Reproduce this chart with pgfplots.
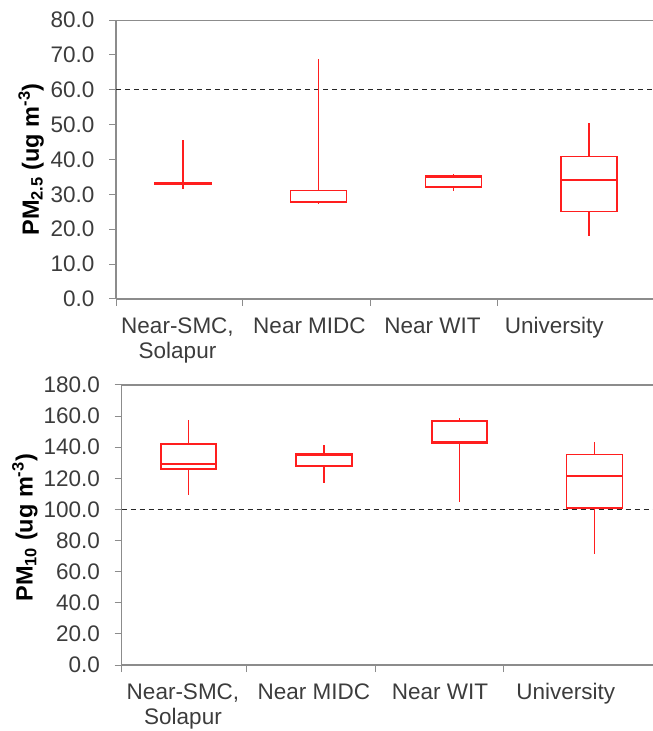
\documentclass[border=0pt]{standalone}
\usepackage{pgfplots}
\pgfplotsset{compat=1.18}
\usepgfplotslibrary{statistics}
\usepackage{fontspec}
\setmainfont{Liberation Sans}
\definecolor{tickgray}{RGB}{60,60,60}
\definecolor{axgray}{RGB}{140,140,140}
\definecolor{boxred}{RGB}{255,30,30}
\pgfplotsset{
  panel/.style={
    scale only axis,
    width=540pt,
    axis x line*=bottom, axis y line*=left,
    axis line style={axgray, line width=1.4pt, -},
    tick style={axgray, line width=1pt},
    major tick length=7pt,
    tick align=outside,
    ytick pos=left, xtick pos=bottom,
    boxplot/draw direction=y,
    /pgf/number format/assume math mode=true,
    yticklabel style={font=\fontsize{22.5}{26}\selectfont, text=tickgray, xshift=-11pt,
      /pgf/number format/.cd, fixed, fixed zerofill, precision=1},
    xticklabels={},
    extra x tick style={major tick length=0pt,
      tick label style={font=\fontsize{22.5}{25}\selectfont, text=tickgray, align=center, yshift=-15pt}},
    extra x tick labels={{Near-SMC,\\Solapur},{Near MIDC},{Near WIT},{University}},
    ylabel style={anchor=center, rotate=0,
      font=\fontsize{23.5}{27}\selectfont\bfseries},
  },
  bx/.style={color=boxred, line width=1.6pt, solid, mark=none,
    boxplot/every median/.style={color=boxred, line width=1.6pt},
    boxplot/every whisker/.style={color=boxred, line width=1.6pt},
    boxplot/every box/.style={color=boxred, line width=1.6pt}},
}
\begin{document}
\begin{tikzpicture}
\useasboundingbox (0,0) rectangle (653pt,731pt);
% ---------- top panel: PM2.5 ----------
\begin{axis}[panel,
  at={(116pt,432pt)}, anchor=south west,
  height=279pt,
  xmin=116, xmax=656, ymin=0, ymax=80,
  ytick={0,10,...,80},
  xtick={116,242.7,370,497.3},
  extra x ticks={177.5,309.5,432.5,554.2},
  ylabel={PM\textsubscript{2.5} (ug m\textsuperscript{-3})},
  ylabel style={at={(axis description cs:-0.157,0.5)}},
]
\addplot[black!85, line width=1.4pt, dash pattern=on 5pt off 4pt] coordinates {(116,60) (656,60)};
\addplot[bx, boxplot prepared={draw position=183, lower whisker=31.5, lower quartile=32.8, median=33.0, upper quartile=33.4, upper whisker=45.5, box extend=56, whisker extend=0}] coordinates {};
\addplot[bx, boxplot prepared={draw position=318.5, lower whisker=27.2, lower quartile=27.8, median=28.0, upper quartile=31.1, upper whisker=68.7, box extend=56, whisker extend=0}] coordinates {};
\addplot[bx, boxplot prepared={draw position=453.5, lower whisker=30.9, lower quartile=32.1, median=34.8, upper quartile=35.2, upper whisker=35.9, box extend=56, whisker extend=0}] coordinates {};
\addplot[bx, boxplot prepared={draw position=589, lower whisker=18.1, lower quartile=25.1, median=34.2, upper quartile=40.9, upper whisker=50.5, box extend=56, whisker extend=0}] coordinates {};
\draw[axgray, line width=1.4pt] (rel axis cs:0,1) -- (rel axis cs:1,1);
\end{axis}
% ---------- bottom panel: PM10 ----------
\begin{axis}[panel,
  at={(121.5pt,66pt)}, anchor=south west,
  height=280pt,
  xmin=121.5, xmax=661.5, ymin=0, ymax=180,
  ytick={0,20,...,180},
  xtick={121.5,246.7,375.7,503.3},
  extra x ticks={183,313.8,440,565.8},
  ylabel={PM\textsubscript{10} (ug m\textsuperscript{-3})},
  ylabel style={at={(axis description cs:-0.179,0.49)}},
]
\addplot[black!85, line width=1.4pt, dash pattern=on 5pt off 4pt] coordinates {(121.5,100) (661.5,100)};
\addplot[bx, boxplot prepared={draw position=188.3, lower whisker=109.3, lower quartile=126.0, median=129.2, upper quartile=142.0, upper whisker=157.5, box extend=55, whisker extend=0}] coordinates {};
\addplot[bx, boxplot prepared={draw position=323.8, lower whisker=116.8, lower quartile=127.9, median=135.0, upper quartile=136.0, upper whisker=141.4, box extend=56, whisker extend=0}] coordinates {};
\addplot[bx, boxplot prepared={draw position=459.3, lower whisker=104.6, lower quartile=142.5, median=143.5, upper quartile=156.8, upper whisker=159.0, box extend=55, whisker extend=0}] coordinates {};
\addplot[bx, boxplot prepared={draw position=594.5, lower whisker=71.3, lower quartile=101.1, median=121.5, upper quartile=135.4, upper whisker=143.5, box extend=56, whisker extend=0}] coordinates {};
\draw[axgray, line width=1.4pt] (rel axis cs:0,1) -- (rel axis cs:1,1);
\end{axis}
\end{tikzpicture}
\end{document}
